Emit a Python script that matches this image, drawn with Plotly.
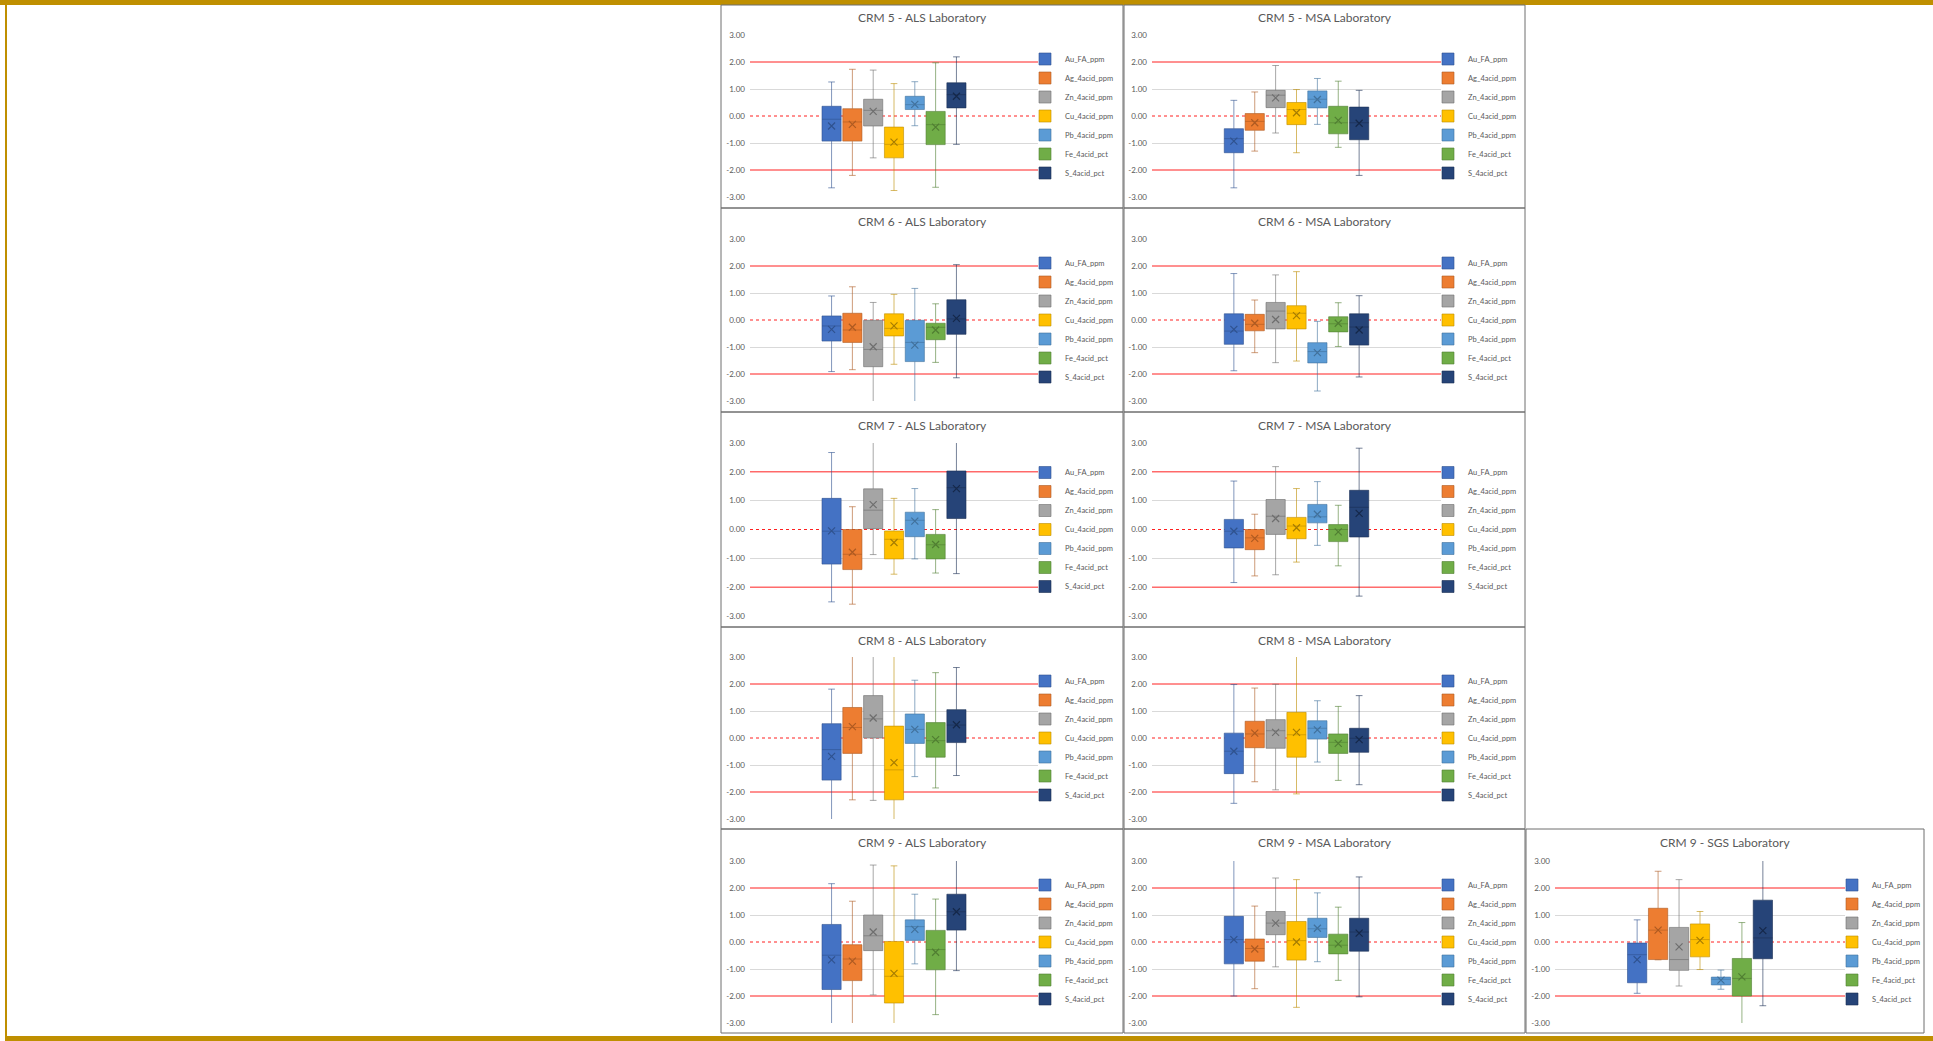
import plotly.graph_objects as go

# ---------------------------------------------------------------------------
# Series (one box per analyte) and styling
# ---------------------------------------------------------------------------
SERIES = ["Au_FA_ppm", "Ag_4acid_ppm", "Zn_4acid_ppm", "Cu_4acid_ppm",
          "Pb_4acid_ppm", "Fe_4acid_pct", "S_4acid_pct"]
FILL_COLORS = ["#4472C4", "#ED7D31", "#A5A5A5", "#FFC000",
               "#5B9BD5", "#70AD47", "#264478"]
EDGE_COLORS = ["rgba(47,82,143,0.6)", "rgba(174,90,33,0.6)", "rgba(110,110,110,0.6)",
               "rgba(188,140,0,0.6)", "rgba(65,113,156,0.6)", "rgba(80,126,50,0.6)",
               "rgba(26,47,84,0.6)"]
MEAN_COLORS = ["#2F528F", "#AE5A21", "#6E6E6E", "#A67C00",
               "#41719C", "#507E32", "#15284A"]

Y_TICKS = [3, 2, 1, 0, -1, -2, -3]
GRID_VALUES = [3, 1, -1, -3]
UPPER_LIMIT = 2
CENTRE_LINE = 0
LOWER_LIMIT = -2

# ---------------------------------------------------------------------------
# Z-score summaries per CRM / laboratory: whisker ends, quartiles, median, mean
# ---------------------------------------------------------------------------
crm5_als_max = [1.26, 1.73, 1.70, 1.20, 1.27, 1.97, 2.19]
crm5_als_q3 = [0.36, 0.27, 0.62, -0.41, 0.73, 0.17, 1.23]
crm5_als_median = [-0.12, -0.22, 0.21, -1.05, 0.42, -0.32, 0.79]
crm5_als_q1 = [-0.93, -0.93, -0.37, -1.55, 0.24, -1.06, 0.30]
crm5_als_min = [-2.66, -2.20, -1.55, -2.76, -0.36, -2.64, -1.05]
crm5_als_mean = [-0.37, -0.31, 0.17, -0.97, 0.43, -0.41, 0.73]

crm5_msa_max = [0.58, 0.89, 1.87, 0.98, 1.39, 1.29, 0.95]
crm5_msa_q3 = [-0.47, 0.09, 0.95, 0.50, 0.93, 0.36, 0.33]
crm5_msa_median = [-0.84, -0.20, 0.77, 0.24, 0.62, -0.25, -0.25]
crm5_msa_q1 = [-1.36, -0.53, 0.31, -0.32, 0.30, -0.66, -0.88]
crm5_msa_min = [-2.66, -1.30, -0.63, -1.36, -0.31, -1.16, -2.20]
crm5_msa_mean = [-0.93, -0.25, 0.67, 0.12, 0.61, -0.16, -0.27]

crm6_als_max = [0.89, 1.23, 0.65, 0.95, 1.17, 0.60, 2.05]
crm6_als_q3 = [0.15, 0.25, -0.01, 0.23, -0.01, -0.12, 0.75]
crm6_als_median = [-0.22, -0.37, -1.09, -0.31, -0.83, -0.27, 0.04]
crm6_als_q1 = [-0.78, -0.83, -1.73, -0.59, -1.54, -0.73, -0.53]
crm6_als_min = [-1.91, -1.84, -3.10, -1.64, -3.10, -1.57, -2.14]
crm6_als_mean = [-0.35, -0.27, -0.99, -0.22, -0.93, -0.37, 0.06]

crm6_msa_max = [1.72, 0.74, 1.67, 1.79, -0.05, 0.64, 0.90]
crm6_msa_q3 = [0.23, 0.21, 0.65, 0.53, -0.84, 0.12, 0.23]
crm6_msa_median = [-0.41, -0.16, 0.33, 0.25, -1.17, -0.14, -0.26]
crm6_msa_q1 = [-0.90, -0.40, -0.33, -0.33, -1.59, -0.44, -0.93]
crm6_msa_min = [-1.88, -1.21, -1.58, -1.52, -2.63, -0.98, -2.11]
crm6_msa_mean = [-0.35, -0.12, 0.02, 0.16, -1.21, -0.12, -0.37]

crm7_als_max = [2.67, 0.79, 3.10, 1.08, 1.42, 0.69, 3.10]
crm7_als_q3 = [1.08, 0.00, 1.41, -0.05, 0.60, -0.17, 2.03]
crm7_als_median = [-0.06, -0.86, 0.67, -0.34, 0.32, -0.53, 1.45]
crm7_als_q1 = [-1.20, -1.39, 0.03, -1.02, -0.25, -1.02, 0.38]
crm7_als_min = [-2.51, -2.59, -0.87, -1.55, -1.02, -1.51, -1.53]
crm7_als_mean = [-0.05, -0.79, 0.86, -0.45, 0.29, -0.52, 1.42]

crm7_msa_max = [1.68, 0.53, 2.18, 1.42, 1.66, 0.84, 2.82]
crm7_msa_q3 = [0.35, 0.00, 1.04, 0.42, 0.87, 0.17, 1.36]
crm7_msa_median = [-0.06, -0.29, 0.46, 0.12, 0.44, 0.00, 0.77]
crm7_msa_q1 = [-0.64, -0.70, -0.17, -0.32, 0.23, -0.42, -0.26]
crm7_msa_min = [-1.84, -1.61, -1.57, -1.13, -0.55, -1.26, -2.31]
crm7_msa_mean = [-0.06, -0.31, 0.38, 0.06, 0.53, -0.08, 0.56]

crm8_als_max = [1.81, 3.10, 3.10, 3.10, 2.14, 2.42, 2.61]
crm8_als_q3 = [0.53, 1.13, 1.57, 0.44, 0.89, 0.57, 1.05]
crm8_als_median = [-0.43, 0.39, 0.71, -1.18, 0.32, -0.10, 0.48]
crm8_als_q1 = [-1.56, -0.57, 0.00, -2.29, -0.20, -0.71, -0.17]
crm8_als_min = [-3.10, -2.29, -2.31, -3.10, -1.43, -1.85, -1.39]
crm8_als_mean = [-0.68, 0.42, 0.74, -0.91, 0.32, -0.06, 0.49]

crm8_msa_max = [1.98, 1.85, 1.99, 3.10, 1.38, 1.17, 1.57]
crm8_msa_q3 = [0.18, 0.62, 0.68, 0.95, 0.64, 0.15, 0.36]
crm8_msa_median = [-0.49, 0.15, 0.27, 0.12, 0.36, -0.16, -0.01]
crm8_msa_q1 = [-1.32, -0.36, -0.38, -0.71, -0.04, -0.57, -0.53]
crm8_msa_min = [-2.42, -1.62, -1.92, -2.07, -0.89, -1.57, -1.73]
crm8_msa_mean = [-0.49, 0.18, 0.21, 0.21, 0.30, -0.20, -0.06]

crm9_als_max = [2.16, 1.51, 2.85, 2.82, 1.77, 1.59, 3.10]
crm9_als_q3 = [0.65, -0.10, 1.00, 0.02, 0.82, 0.43, 1.77]
crm9_als_median = [-0.49, -0.63, 0.23, -1.27, 0.57, -0.28, 1.12]
crm9_als_q1 = [-1.76, -1.43, -0.32, -2.26, 0.06, -1.03, 0.44]
crm9_als_min = [-3.10, -3.10, -1.96, -3.10, -0.81, -2.69, -1.06]
crm9_als_mean = [-0.66, -0.71, 0.37, -1.16, 0.47, -0.38, 1.12]

crm9_msa_max = [3.10, 1.33, 2.37, 2.31, 1.82, 1.29, 2.41]
crm9_msa_q3 = [0.95, 0.11, 1.13, 0.76, 0.88, 0.29, 0.88]
crm9_msa_median = [0.09, -0.24, 0.70, 0.05, 0.49, -0.12, 0.37]
crm9_msa_q1 = [-0.81, -0.71, 0.27, -0.67, 0.17, -0.44, -0.34]
crm9_msa_min = [-2.00, -1.73, -0.92, -2.42, -0.73, -1.42, -2.03]
crm9_msa_mean = [0.09, -0.26, 0.70, 0.00, 0.51, -0.07, 0.33]

crm9_sgs_max = [0.82, 2.62, 2.31, 1.13, -1.04, 0.72, 3.10]
crm9_sgs_q3 = [-0.04, 1.25, 0.54, 0.67, -1.30, -0.61, 1.55]
crm9_sgs_median = [-0.47, 0.44, -0.65, 0.09, -1.38, -1.35, 0.15]
crm9_sgs_q1 = [-1.51, -0.65, -1.05, -0.55, -1.59, -2.00, -0.62]
crm9_sgs_min = [-1.90, -0.66, -1.63, -1.02, -1.75, -3.10, -2.36]
crm9_sgs_mean = [-0.65, 0.44, -0.18, 0.06, -1.41, -1.29, 0.42]

# (title, grid row, grid column, stats)
PANELS = [
    ("CRM 5 - ALS Laboratory", 0, 0, (crm5_als_max, crm5_als_q3, crm5_als_median, crm5_als_q1, crm5_als_min, crm5_als_mean)),
    ("CRM 5 - MSA Laboratory", 0, 1, (crm5_msa_max, crm5_msa_q3, crm5_msa_median, crm5_msa_q1, crm5_msa_min, crm5_msa_mean)),
    ("CRM 6 - ALS Laboratory", 1, 0, (crm6_als_max, crm6_als_q3, crm6_als_median, crm6_als_q1, crm6_als_min, crm6_als_mean)),
    ("CRM 6 - MSA Laboratory", 1, 1, (crm6_msa_max, crm6_msa_q3, crm6_msa_median, crm6_msa_q1, crm6_msa_min, crm6_msa_mean)),
    ("CRM 7 - ALS Laboratory", 2, 0, (crm7_als_max, crm7_als_q3, crm7_als_median, crm7_als_q1, crm7_als_min, crm7_als_mean)),
    ("CRM 7 - MSA Laboratory", 2, 1, (crm7_msa_max, crm7_msa_q3, crm7_msa_median, crm7_msa_q1, crm7_msa_min, crm7_msa_mean)),
    ("CRM 8 - ALS Laboratory", 3, 0, (crm8_als_max, crm8_als_q3, crm8_als_median, crm8_als_q1, crm8_als_min, crm8_als_mean)),
    ("CRM 8 - MSA Laboratory", 3, 1, (crm8_msa_max, crm8_msa_q3, crm8_msa_median, crm8_msa_q1, crm8_msa_min, crm8_msa_mean)),
    ("CRM 9 - ALS Laboratory", 4, 0, (crm9_als_max, crm9_als_q3, crm9_als_median, crm9_als_q1, crm9_als_min, crm9_als_mean)),
    ("CRM 9 - MSA Laboratory", 4, 1, (crm9_msa_max, crm9_msa_q3, crm9_msa_median, crm9_msa_q1, crm9_msa_min, crm9_msa_mean)),
    ("CRM 9 - SGS Laboratory", 4, 2, (crm9_sgs_max, crm9_sgs_q3, crm9_sgs_median, crm9_sgs_q1, crm9_sgs_min, crm9_sgs_mean)),
]

# ---------------------------------------------------------------------------
# Page geometry (pixels)
# ---------------------------------------------------------------------------
W, H = 1933, 1041
ROW_FRAMES = [(5, 208), (208, 412), (412, 627), (627, 829), (829, 1033)]
ROW_PLOTS = [(35, 197), (239, 401), (443, 616), (657, 819), (861, 1023)]
COL_FRAMES = [(721, 1123), (1124, 1525), (1526, 1924)]
COL_PLOTS = [(750, 1038), (1152, 1441), (1555, 1845)]

TEXT = "#595959"
FONT = "Lato, 'Open Sans', sans-serif"


def px_x(v):
    return v / W


def px_y(v):
    return 1 - v / H


fig = go.Figure()
layout = dict(
    width=W, height=H,
    margin=dict(l=0, r=0, t=0, b=0, autoexpand=False),
    paper_bgcolor="white", plot_bgcolor="white",
    font=dict(family=FONT, color=TEXT),
    showlegend=True,
    boxmode="overlay",
    hovermode="closest",
)
shapes = []
annotations = []

# gold page frame
GOLD = "#BF8F00"
shapes.append(dict(type="rect", xref="paper", yref="paper", x0=0, x1=1,
                   y0=px_y(5), y1=1, fillcolor=GOLD, line=dict(width=0), layer="above"))
shapes.append(dict(type="rect", xref="paper", yref="paper", x0=px_x(5), x1=px_x(7),
                   y0=px_y(1036), y1=1, fillcolor=GOLD, line=dict(width=0), layer="above"))
shapes.append(dict(type="rect", xref="paper", yref="paper", x0=px_x(5), x1=1,
                   y0=0, y1=px_y(1036), fillcolor=GOLD, line=dict(width=0), layer="above"))

for k, (title, row, col, stats) in enumerate(PANELS, start=1):
    hi, q3, med, q1, lo, mean = stats
    sfx = "" if k == 1 else str(k)
    xa, ya = "x" + sfx, "y" + sfx
    leg = "legend" + sfx

    fx0, fx1 = COL_FRAMES[col]
    fy0, fy1 = ROW_FRAMES[row]
    px0, px1 = COL_PLOTS[col]
    py0, py1 = ROW_PLOTS[row]

    layout["xaxis" + sfx] = dict(
        domain=[px_x(px0), px_x(px1)], anchor=ya,
        type="category", categoryorder="array", categoryarray=SERIES,
        range=[-3.92, 9.92], showticklabels=False, showgrid=False,
        zeroline=False, showline=False, ticks="", fixedrange=True,
        automargin=False,
    )
    # gridlines only where no reference line sits (±1, ±3)
    layout["yaxis" + sfx] = dict(
        domain=[px_y(py1), px_y(py0)], anchor=xa,
        range=[-3, 3], tickmode="array", tickvals=Y_TICKS,
        ticktext=[f"{v:.2f}" for v in Y_TICKS],
        tickfont=dict(size=8, color=TEXT, family=FONT),
        showgrid=False,
        minor=dict(tickmode="array", tickvals=GRID_VALUES, showgrid=True,
                   gridcolor="#D9D9D9", gridwidth=1, ticks=""),
        zeroline=False, showline=False, ticks="", ticklabelstandoff=4,
        fixedrange=True, automargin=False,
    )

    for i, name in enumerate(SERIES):
        fig.add_trace(go.Box(
            x=[name], q1=[q1[i]], median=[med[i]], q3=[q3[i]],
            lowerfence=[lo[i]], upperfence=[hi[i]],
            name=name, fillcolor=FILL_COLORS[i],
            line=dict(color=EDGE_COLORS[i], width=1),
            whiskerwidth=0.35, width=0.92, boxpoints=False,
            xaxis=xa, yaxis=ya, legend=leg, showlegend=True,
        ))
    fig.add_trace(go.Scatter(
        x=SERIES, y=mean, mode="markers", showlegend=False,
        marker=dict(symbol="x-thin", size=7, color=MEAN_COLORS,
                    line=dict(width=1.2, color=MEAN_COLORS)),
        xaxis=xa, yaxis=ya, hovertemplate="mean %{y:.2f}<extra>%{x}</extra>",
    ))

    # control limits and centre line, under the boxes
    for yv, dash in ((UPPER_LIMIT, "solid"), (LOWER_LIMIT, "solid"), (CENTRE_LINE, "dot")):
        shapes.append(dict(type="line", xref=xa + " domain", yref=ya,
                           x0=0, x1=1, y0=yv, y1=yv, layer="below",
                           line=dict(color="#FF2020", width=1, dash=dash)))

    # panel frame
    shapes.append(dict(type="rect", xref="paper", yref="paper",
                       x0=px_x(fx0), x1=px_x(fx1), y0=px_y(fy1), y1=px_y(fy0),
                       line=dict(color="#6E6E6E", width=1), layer="above"))

    annotations.append(dict(
        text=title, xref="paper", yref="paper",
        x=px_x((fx0 + fx1) / 2), y=px_y(fy0 + 13),
        xanchor="center", yanchor="middle", showarrow=False,
        font=dict(size=12, color=TEXT, family=FONT),
    ))

    layout[leg] = dict(
        x=px_x(px1 - 13), y=px_y((py0 + py1) / 2),
        xanchor="left", yanchor="middle",
        bgcolor="rgba(0,0,0,0)", borderwidth=0,
        font=dict(size=7.5, color=TEXT, family=FONT),
        traceorder="normal", itemclick=False, itemdoubleclick=False,
    )

layout["shapes"] = shapes
layout["annotations"] = annotations
fig.update_layout(**layout)

fig.write_html("out.html")
